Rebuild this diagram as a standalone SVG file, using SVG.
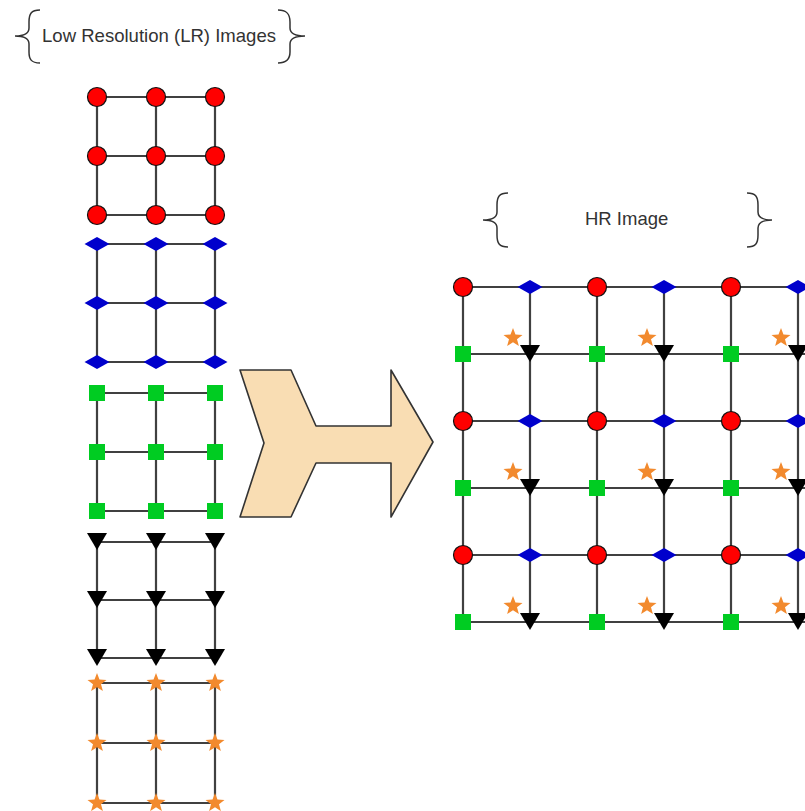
<svg xmlns="http://www.w3.org/2000/svg" xmlns:xlink="http://www.w3.org/1999/xlink" width="805" height="811" viewBox="0 0 805 811">
<style>
.ln{stroke:#404040;stroke-width:2.2;fill:none}
.br{stroke:#333;stroke-width:1.5;fill:none}
.lbl{font-family:"Liberation Sans",Arial,sans-serif;font-size:18.5px;fill:#333}
</style>
<defs>
<circle id="cir" r="9.5" fill="#ff0000" stroke="#111" stroke-width="1.2"/>
<polygon id="dia" points="-12.5,0 0,-7 12.5,0 0,7" fill="#0000cc"/>
<rect id="sq" x="-8" y="-8" width="16" height="16" fill="#00cc22"/>
<polygon id="tri" points="-10,-9 10,-9 0,8" fill="#000"/>
<polygon id="star" points="0,-10 2.47,-3.4 9.51,-3.09 3.99,1.3 5.88,8.09 0,4.2 -5.88,8.09 -3.99,1.3 -9.51,-3.09 -2.47,-3.4" fill="#f28a2e"/>
</defs>
<rect width="805" height="811" fill="#fff"/>
<g id="labels">
<path class="br" d="M40,10 C31,10 29,14 29,22 L29,28 C29,33 24,36 15,36 C24,36 29,39 29,44 L29,52 C29,59 31,63 40,63"/>
<path class="br" d="M278,10 C287,10 290,14 290,22 L290,28 C290,33 295,36 305,36 C295,36 290,39 290,44 L290,52 C290,59 287,63 278,63"/>
<text class="lbl" x="42" y="42" textLength="234" lengthAdjust="spacingAndGlyphs">Low Resolution (LR) Images</text>
<path class="br" d="M508,193 C499,193 497,197 497,205 L497,212 C497,217 492,220 483,220 C492,220 497,223 497,228 L497,235 C497,243 499,247 508,247"/>
<path class="br" d="M747,193 C756,193 758,197 758,205 L758,212 C758,217 763,220 772,220 C763,220 758,223 758,228 L758,235 C758,243 756,247 747,247"/>
<text class="lbl" x="585" y="225">HR Image</text>
</g>
<g id="connectors">
<path class="ln" d="M97,97H215M97,156H215M97,215H215M97,97V215M156,97V215M215,97V215"/>
<path class="ln" d="M97,244H215M97,303H215M97,362H215M97,244V362M156,244V362M215,244V362"/>
<path class="ln" d="M97,393H215M97,452H215M97,511H215M97,393V511M156,393V511M215,393V511"/>
<path class="ln" d="M97,542H215M97,600H215M97,658H215M97,542V658M156,542V658M215,542V658"/>
<path class="ln" d="M97,683H215M97,743H215M97,803H215M97,683V803M156,683V803M215,683V803"/>
<path class="ln" d="M463,287H805M463,354H805M463,421H805M463,488H805M463,555H805M463,622H805M463,287V622M530,287V622M597,287V622M664,287V622M731,287V622M798,287V622"/>
</g>
<g id="arrow">
<polygon points="240,370 291,370 316,426 391,426 391,370 433,442 391,517 391,463 316,463 291,517 240,517 264,443" fill="#f9ddb3" stroke="#333" stroke-width="1.6" stroke-linejoin="round"/>
</g>
<g id="lr-red">
<g id="lr-r1"><use xlink:href="#cir" x="97" y="97"/></g>
<g id="lr-r2"><use xlink:href="#cir" x="156" y="97"/></g>
<g id="lr-r3"><use xlink:href="#cir" x="215" y="97"/></g>
<g id="lr-r4"><use xlink:href="#cir" x="97" y="156"/></g>
<g id="lr-r5"><use xlink:href="#cir" x="156" y="156"/></g>
<g id="lr-r6"><use xlink:href="#cir" x="215" y="156"/></g>
<g id="lr-r7"><use xlink:href="#cir" x="97" y="215"/></g>
<g id="lr-r8"><use xlink:href="#cir" x="156" y="215"/></g>
<g id="lr-r9"><use xlink:href="#cir" x="215" y="215"/></g>
</g>
<g id="lr-blue">
<g id="lr-b1"><use xlink:href="#dia" x="97" y="244"/></g>
<g id="lr-b2"><use xlink:href="#dia" x="156" y="244"/></g>
<g id="lr-b3"><use xlink:href="#dia" x="215" y="244"/></g>
<g id="lr-b4"><use xlink:href="#dia" x="97" y="303"/></g>
<g id="lr-b5"><use xlink:href="#dia" x="156" y="303"/></g>
<g id="lr-b6"><use xlink:href="#dia" x="215" y="303"/></g>
<g id="lr-b7"><use xlink:href="#dia" x="97" y="362"/></g>
<g id="lr-b8"><use xlink:href="#dia" x="156" y="362"/></g>
<g id="lr-b9"><use xlink:href="#dia" x="215" y="362"/></g>
</g>
<g id="lr-green">
<g id="lr-g1"><use xlink:href="#sq" x="97" y="393"/></g>
<g id="lr-g2"><use xlink:href="#sq" x="156" y="393"/></g>
<g id="lr-g3"><use xlink:href="#sq" x="215" y="393"/></g>
<g id="lr-g4"><use xlink:href="#sq" x="97" y="452"/></g>
<g id="lr-g5"><use xlink:href="#sq" x="156" y="452"/></g>
<g id="lr-g6"><use xlink:href="#sq" x="215" y="452"/></g>
<g id="lr-g7"><use xlink:href="#sq" x="97" y="511"/></g>
<g id="lr-g8"><use xlink:href="#sq" x="156" y="511"/></g>
<g id="lr-g9"><use xlink:href="#sq" x="215" y="511"/></g>
</g>
<g id="lr-black">
<g id="lr-t1"><use xlink:href="#tri" x="97" y="542"/></g>
<g id="lr-t2"><use xlink:href="#tri" x="156" y="542"/></g>
<g id="lr-t3"><use xlink:href="#tri" x="215" y="542"/></g>
<g id="lr-t4"><use xlink:href="#tri" x="97" y="600"/></g>
<g id="lr-t5"><use xlink:href="#tri" x="156" y="600"/></g>
<g id="lr-t6"><use xlink:href="#tri" x="215" y="600"/></g>
<g id="lr-t7"><use xlink:href="#tri" x="97" y="658"/></g>
<g id="lr-t8"><use xlink:href="#tri" x="156" y="658"/></g>
<g id="lr-t9"><use xlink:href="#tri" x="215" y="658"/></g>
</g>
<g id="lr-orange">
<g id="lr-s1"><use xlink:href="#star" x="97" y="683"/></g>
<g id="lr-s2"><use xlink:href="#star" x="156" y="683"/></g>
<g id="lr-s3"><use xlink:href="#star" x="215" y="683"/></g>
<g id="lr-s4"><use xlink:href="#star" x="97" y="743"/></g>
<g id="lr-s5"><use xlink:href="#star" x="156" y="743"/></g>
<g id="lr-s6"><use xlink:href="#star" x="215" y="743"/></g>
<g id="lr-s7"><use xlink:href="#star" x="97" y="803"/></g>
<g id="lr-s8"><use xlink:href="#star" x="156" y="803"/></g>
<g id="lr-s9"><use xlink:href="#star" x="215" y="803"/></g>
</g>
<g id="hr">
<g id="hr-r00"><use xlink:href="#cir" x="463" y="287"/></g>
<g id="hr-b01"><use xlink:href="#dia" x="530" y="287"/></g>
<g id="hr-r02"><use xlink:href="#cir" x="597" y="287"/></g>
<g id="hr-b03"><use xlink:href="#dia" x="664" y="287"/></g>
<g id="hr-r04"><use xlink:href="#cir" x="731" y="287"/></g>
<g id="hr-b05"><use xlink:href="#dia" x="798" y="287"/></g>
<g id="hr-g10"><use xlink:href="#sq" x="463" y="354"/></g>
<g id="hr-t11"><use xlink:href="#tri" x="530" y="354"/></g>
<g id="hr-g12"><use xlink:href="#sq" x="597" y="354"/></g>
<g id="hr-t13"><use xlink:href="#tri" x="664" y="354"/></g>
<g id="hr-g14"><use xlink:href="#sq" x="731" y="354"/></g>
<g id="hr-t15"><use xlink:href="#tri" x="798" y="354"/></g>
<g id="hr-r20"><use xlink:href="#cir" x="463" y="421"/></g>
<g id="hr-b21"><use xlink:href="#dia" x="530" y="421"/></g>
<g id="hr-r22"><use xlink:href="#cir" x="597" y="421"/></g>
<g id="hr-b23"><use xlink:href="#dia" x="664" y="421"/></g>
<g id="hr-r24"><use xlink:href="#cir" x="731" y="421"/></g>
<g id="hr-b25"><use xlink:href="#dia" x="798" y="421"/></g>
<g id="hr-g30"><use xlink:href="#sq" x="463" y="488"/></g>
<g id="hr-t31"><use xlink:href="#tri" x="530" y="488"/></g>
<g id="hr-g32"><use xlink:href="#sq" x="597" y="488"/></g>
<g id="hr-t33"><use xlink:href="#tri" x="664" y="488"/></g>
<g id="hr-g34"><use xlink:href="#sq" x="731" y="488"/></g>
<g id="hr-t35"><use xlink:href="#tri" x="798" y="488"/></g>
<g id="hr-r40"><use xlink:href="#cir" x="463" y="555"/></g>
<g id="hr-b41"><use xlink:href="#dia" x="530" y="555"/></g>
<g id="hr-r42"><use xlink:href="#cir" x="597" y="555"/></g>
<g id="hr-b43"><use xlink:href="#dia" x="664" y="555"/></g>
<g id="hr-r44"><use xlink:href="#cir" x="731" y="555"/></g>
<g id="hr-b45"><use xlink:href="#dia" x="798" y="555"/></g>
<g id="hr-g50"><use xlink:href="#sq" x="463" y="622"/></g>
<g id="hr-t51"><use xlink:href="#tri" x="530" y="622"/></g>
<g id="hr-g52"><use xlink:href="#sq" x="597" y="622"/></g>
<g id="hr-t53"><use xlink:href="#tri" x="664" y="622"/></g>
<g id="hr-g54"><use xlink:href="#sq" x="731" y="622"/></g>
<g id="hr-t55"><use xlink:href="#tri" x="798" y="622"/></g>
<g id="hr-s11"><use xlink:href="#star" x="513" y="338"/></g>
<g id="hr-s13"><use xlink:href="#star" x="647" y="338"/></g>
<g id="hr-s15"><use xlink:href="#star" x="781" y="338"/></g>
<g id="hr-s31"><use xlink:href="#star" x="513" y="472"/></g>
<g id="hr-s33"><use xlink:href="#star" x="647" y="472"/></g>
<g id="hr-s35"><use xlink:href="#star" x="781" y="472"/></g>
<g id="hr-s51"><use xlink:href="#star" x="513" y="606"/></g>
<g id="hr-s53"><use xlink:href="#star" x="647" y="606"/></g>
<g id="hr-s55"><use xlink:href="#star" x="781" y="606"/></g>
</g>
</svg>
